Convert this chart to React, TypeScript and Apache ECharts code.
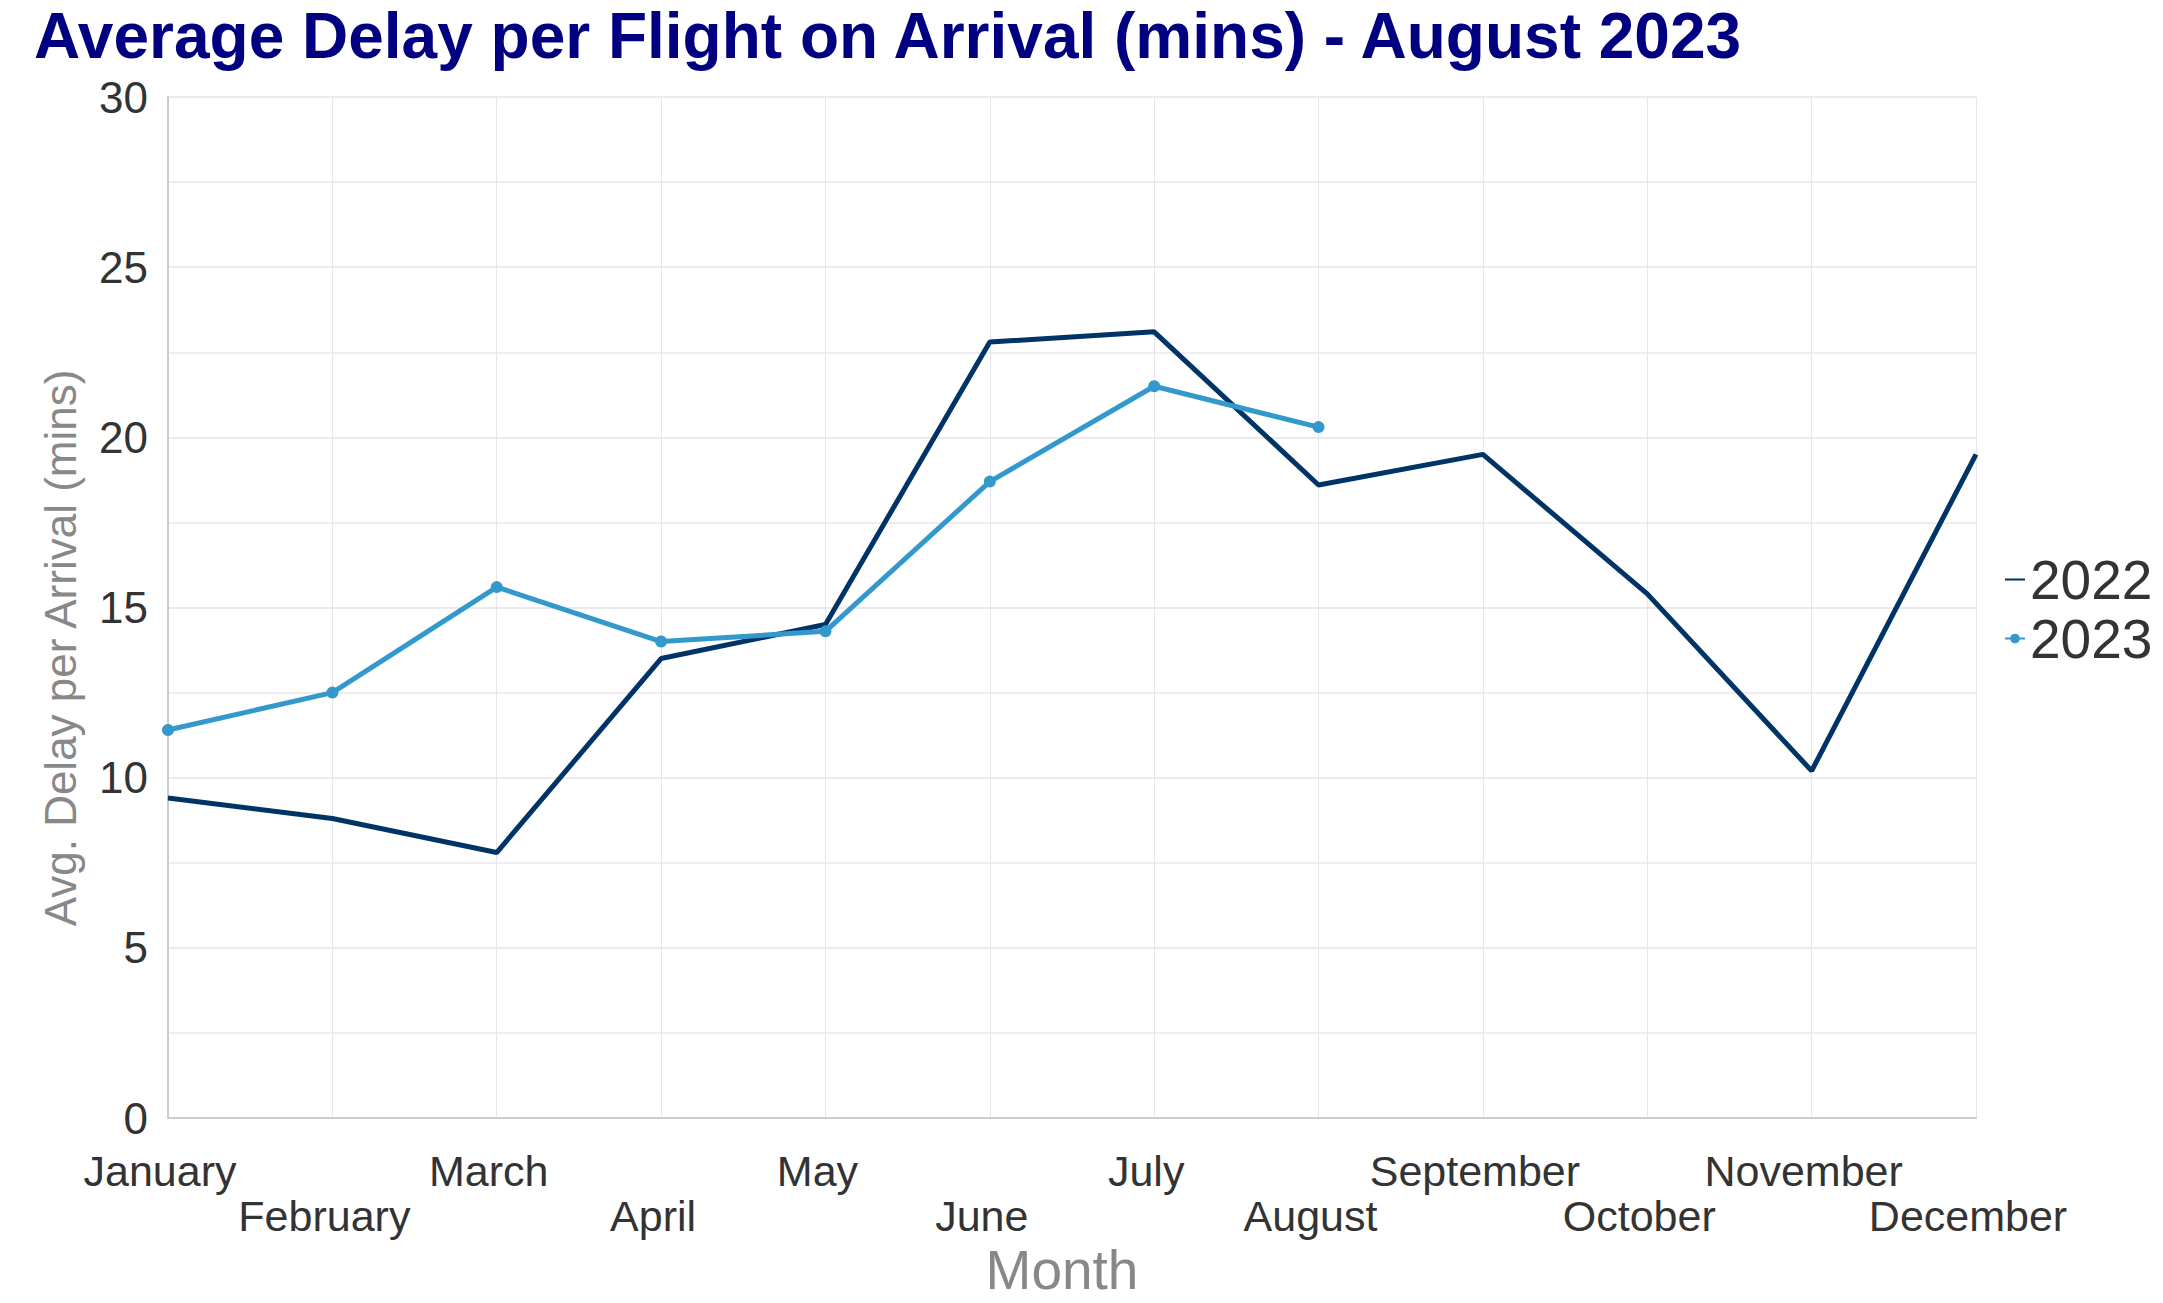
import React, { useEffect, useRef } from "react";
import * as echarts from "echarts";

const months = [
  "January", "February", "March", "April", "May", "June",
  "July", "August", "September", "October", "November", "December",
];
const delay2022 = [9.4, 8.8, 7.8, 13.5, 14.5, 22.8, 23.1, 18.6, 19.5, 15.4, 10.2, 19.5];
const delay2023 = [11.4, 12.5, 15.6, 14.0, 14.3, 18.7, 21.5, 20.3];

const FONT = '"Liberation Sans", Arial, Helvetica, sans-serif';

export default function App() {
  const ref = useRef<HTMLDivElement>(null);

  useEffect(() => {
    if (!ref.current) return;
    const chart = echarts.init(ref.current, undefined, { renderer: "svg" });
    chart.setOption({
      animation: false,
      backgroundColor: "#ffffff",
      textStyle: { fontFamily: FONT },
      title: {
        text: "Average Delay per Flight on Arrival (mins) - August 2023",
        left: 34,
        top: 4,
        padding: 0,
        textStyle: { fontFamily: FONT, fontSize: 64, fontWeight: "bold", color: "#000080" },
      },
      legend: {
        orient: "vertical",
        left: 2004,
        top: 552,
        itemWidth: 20,
        itemHeight: 12,
        itemGap: 4,
        padding: 0,
        textStyle: { fontFamily: FONT, fontSize: 55, color: "#333333", lineHeight: 55 },
        data: [
          { name: "2022", itemStyle: { opacity: 0 } },
          { name: "2023" },
        ],
      },
      graphic: [
        {
          type: "text",
          x: 60,
          y: 648,
          rotation: Math.PI / 2,
          style: {
            text: "Avg. Delay per Arrival (mins)",
            fontFamily: FONT,
            fontSize: 44,
            fill: "#888888",
            align: "center",
            verticalAlign: "middle",
          },
        },
      ],
      grid: { left: 168, right: 187, top: 97, bottom: 185, containLabel: false, outerBoundsMode: "none" },
      xAxis: {
        type: "category",
        data: months,
        boundaryGap: false,
        name: "Month",
        nameLocation: "middle",
        nameGap: 124,
        nameTextStyle: {
          fontFamily: FONT,
          fontSize: 55,
          color: "#888888",
          padding: [0, 20, 0, 0],
        },
        axisLine: { show: true, lineStyle: { color: "#cccccc", width: 2 } },
        axisTick: { show: false },
        axisLabel: {
          interval: 0,
          margin: 30,
          fontFamily: FONT,
          fontSize: 43,
          lineHeight: 45,
          color: "#333333",
          padding: [0, 16, 0, 0],
          formatter: (v: string, i: number) => (i % 2 === 1 ? "\n" + v : v),
        },
        splitLine: { show: true, lineStyle: { color: "#e6e6ec", width: 1 } },
      },
      yAxis: {
        type: "value",
        min: 0,
        max: 30,
        interval: 5,
        axisLine: { show: true, lineStyle: { color: "#cccccc", width: 2 } },
        axisTick: { show: false },
        axisLabel: { margin: 20, fontFamily: FONT, fontSize: 44, color: "#333333" },
        splitLine: { show: true, lineStyle: { color: "#e3e3ea", width: 1.5 } },
        minorTick: { show: false, splitNumber: 2 },
        minorSplitLine: { show: true, lineStyle: { color: "#e9e9ee", width: 1.5 } },
      },
      series: [
        {
          name: "2022",
          type: "line",
          data: delay2022,
          symbol: "none",
          showSymbol: false,
          lineStyle: { color: "#003366", width: 5 },
          itemStyle: { color: "#003366" },
        },
        {
          name: "2023",
          type: "line",
          data: delay2023,
          symbol: "circle",
          symbolSize: 12,
          lineStyle: { color: "#3399cc", width: 5 },
          itemStyle: { color: "#3399cc" },
        },
      ],
    });
    return () => chart.dispose();
  }, []);

  return (
    <div
      ref={ref}
      style={{ position: "fixed", left: 0, top: 0, width: 2163, height: 1303, background: "#fff" }}
    />
  );
}
